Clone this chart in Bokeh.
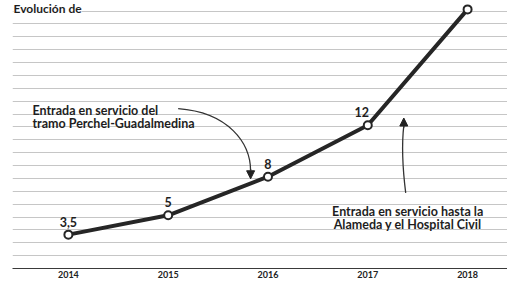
from bokeh.plotting import figure
from bokeh.models import ColumnDataSource, FixedTicker, Label, Arrow, NormalHead
from bokeh.embed import file_html
from bokeh.resources import INLINE
from bokeh.core.properties import value

# ---- data ----
years = [2014, 2015, 2016, 2017, 2018]
values = [3.5, 5, 8, 12, 21]
value_labels = ["3,5", "5", "8", "12", ""]
tick_labels = ["2014", "2015", "2016", "2017", "2018"]
note1 = ["Entrada en servicio del", "tramo Perchel-Guadalmedina"]
note2 = ["Entrada en servicio hasta la", "Alameda y el Hospital Civil"]
title_text = "Evolución de"

# ---- layout ----
X0, X1 = 2013.440, 2018.400
Y0, Y1 = 0.87, 21.69
FONT = "Lato"
INK = "#262626"

p = figure(width=507, height=291, x_range=(X0, X1), y_range=(Y0, Y1),
           output_backend="svg", toolbar_location=None,
           min_border_left=12, min_border_right=0, min_border_top=0, min_border_bottom=23,
           background_fill_color="white", border_fill_color="white",
           outline_line_color=None)
p.title.visible = False

p.yaxis.visible = False
p.xgrid.grid_line_color = None
p.ygrid.ticker = FixedTicker(ticks=[Y0 + k for k in range(22)])
p.ygrid.grid_line_color = "#c6c6c6"
p.ygrid.grid_line_width = 1

p.xaxis.ticker = FixedTicker(ticks=years)
p.xaxis.major_label_overrides = {y: t for y, t in zip(years, tick_labels)}
p.xaxis.major_tick_out = 0
p.xaxis.major_tick_in = 0
p.xaxis.minor_tick_out = 0
p.xaxis.minor_tick_in = 0
p.xaxis.axis_label_standoff = 0
p.xaxis.axis_line_color = "#3a3a3a"
p.xaxis.axis_line_width = 1
p.xaxis.major_label_standoff = 2
p.xaxis.major_label_text_font = FONT
p.xaxis.major_label_text_font_style = "bold"
p.xaxis.major_label_text_font_size = "9px"
p.xaxis.major_label_text_color = "#222222"

src = ColumnDataSource(dict(x=years, y=values, lbl=value_labels,
                            xo=[0, 0, 0, -6, 0]))
p.line("x", "y", source=src, line_width=4, line_color=INK, line_join="round")
p.scatter("x", "y", source=src, marker="circle", size=8, fill_color="white",
          line_color=INK, line_width=2)
p.text("x", "y", text="lbl", source=src, x_offset="xo", y_offset=-13,
       text_align="center", text_baseline="middle",
       text_font=value(FONT), text_font_style="bold", text_font_size="12.5px",
       text_color="#1e1e1e")

# annotations
p.text(x=[2013.640, 2013.640], y=[13.18, 12.14], text=note1,
       text_align="left", text_baseline="alphabetic",
       text_font=value(FONT), text_font_style="bold", text_font_size="12.5px",
       text_color="#1e1e1e")
p.text(x=[2017.40, 2017.40], y=[5.3, 4.26], text=note2,
       text_align="center", text_baseline="alphabetic",
       text_font=value(FONT), text_font_style="bold", text_font_size="12.5px",
       text_color="#1e1e1e")

p.bezier(x0=[2015.10], y0=[13.29], x1=[2015.826], y1=[8.43],
         cx0=[2015.602], cy0=[13.0], cx1=[2015.826], cy1=[10.64],
         line_color="#333333", line_width=1.3)
p.add_layout(Arrow(end=NormalHead(size=8, fill_color="#222222", line_color="#222222"),
                   x_start=2015.826, y_start=8.6, x_end=2015.826, y_end=7.84,
                   line_color="#333333", line_width=1.3))

p.bezier(x0=[2017.380], y0=[6.74], x1=[2017.361], y1=[11.97],
         cx0=[2017.341], cy0=[9.17], cx1=[2017.341], cy1=[10.64],
         line_color="#333333", line_width=1.3)
p.add_layout(Arrow(end=NormalHead(size=8, fill_color="#222222", line_color="#222222"),
                   x_start=2017.361, y_start=11.8, x_end=2017.361, y_end=12.56,
                   line_color="#333333", line_width=1.3))

p.add_layout(Label(x=X0 + 0.01, y=Y1, text=title_text, text_font=FONT,
                   text_font_style="bold", text_font_size="12px",
                   text_baseline="top", text_color="#1e1e1e",
                   background_fill_color="white"))

open("out.html", "w").write(file_html(p, INLINE))
